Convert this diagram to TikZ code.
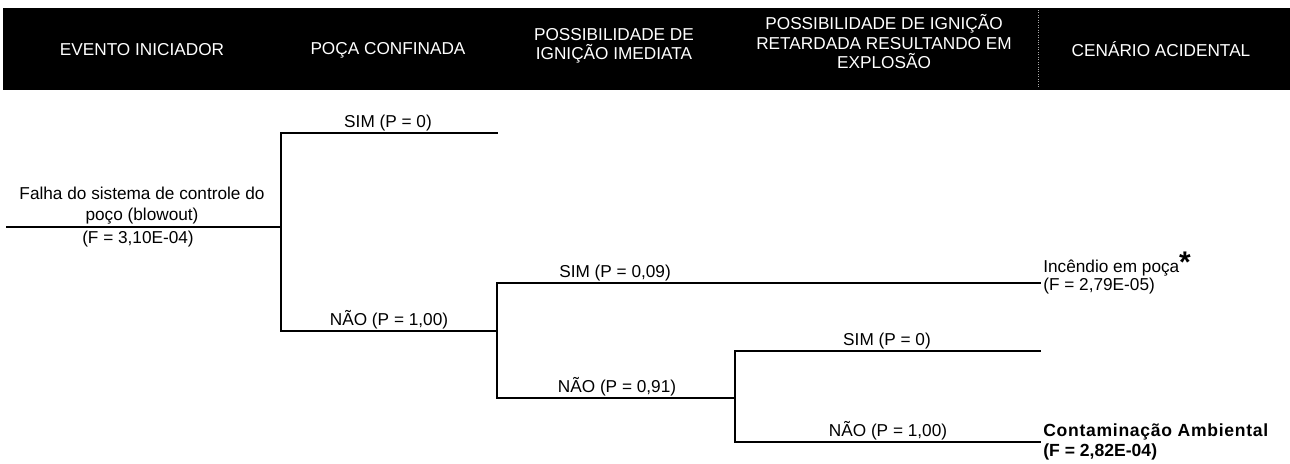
\documentclass[tikz,border=0pt]{standalone}
\usepackage{fontspec}
\setmainfont{Liberation Sans}
\usetikzlibrary{positioning, calc}

\begin{document}
\begin{tikzpicture}[
    x=0.02cm, y=-0.02cm,
    branch/.style={line width=1.2pt, line cap=rect},
    head/.style={font=\fontsize{9.8}{11.1}\selectfont, text=white, align=center, inner sep=0pt},
    prob/.style={font=\fontsize{9.8}{11}\selectfont, anchor=south, inner sep=0pt},
    evt/.style={font=\fontsize{9.8}{11.4}\selectfont, align=center, inner sep=0pt},
    outc/.style={font=\fontsize{9.8}{10.4}\selectfont, align=left, anchor=west, inner sep=0pt},
    outb/.style={outc, font=\fontsize{10}{11.4}\selectfont\bfseries},
    astk/.style={font=\fontsize{17}{17}\selectfont\bfseries, inner sep=0pt},
]
\useasboundingbox (0,0) rectangle (1290,463);

% Header band
\fill[black] (3,8) rectangle (1290,90);
\draw[gray!70, densely dotted, line width=0.4pt] (1038,10) -- (1038,88);
\foreach \i/\xpos/\ypos/\txt in {
    0/142/50/{EVENTO INICIADOR},
    1/388/50/{POÇA CONFINADA},
    2/614/46/{POSSIBILIDADE DE\\IGNIÇÃO IMEDIATA},
    3/884/42/{POSSIBILIDADE DE IGNIÇÃO\\RETARDADA RESULTANDO EM\\EXPLOSÃO},
    4/1161/49/{CENÁRIO ACIDENTAL}} {
    \node[head] (hd_\i) at (\xpos,\ypos) {\txt};
}

% Branch points
\coordinate (ev_l) at (7,227);
\coordinate (b1) at (281,227);
\coordinate (s1_e) at (497,133);
\coordinate (b2) at (497,331);
\coordinate (s2_e) at (1040,283);
\coordinate (b3) at (735,398);
\coordinate (s3_e) at (1040,351);
\coordinate (n3_e) at (1040,442);

\draw[branch] (ev_l) -- (b1);
\draw[branch] (s1_e) -| (b1) |- (b2);
\draw[branch] (s2_e) -| (b2) |- (b3);
\draw[branch] (s3_e) -| (b3) |- (n3_e);

% Initiating event
\node[evt, anchor=south] (ev) at (142,224) {Falha do sistema de controle do\\poço (blowout)};
\node[evt, anchor=north] (ev_f) at (138,231) {(F = 3,10E-04)};

% Branch probabilities
\foreach \n/\xpos/\ypos/\txt in {
    p1_s/388/133/{SIM (P = 0)},
    p1_n/389/331/{NÃO (P = 1,00)},
    p2_s/615/283/{SIM (P = 0,09)},
    p2_n/617/398/{NÃO (P = 0,91)},
    p3_s/887/351/{SIM (P = 0)},
    p3_n/888/442/{NÃO (P = 1,00)}} {
    \node[prob] (\n) at (\xpos,\ypos-1.5) {\txt};
}

% Accident scenarios
\node[outc, yshift=0.12cm] (out_1) at ($(s2_e)+(3,0)$) {Incêndio em poça\\(F = 2,79E-05)};
\node[astk] (ast) at (1185,262) {*};
\node[outb] (out_2) at ($(n3_e)+(3,0)$) {\addfontfeatures{LetterSpace=4}Contaminação Ambiental\\(F = 2,82E-04)};

\end{tikzpicture}
\end{document}
